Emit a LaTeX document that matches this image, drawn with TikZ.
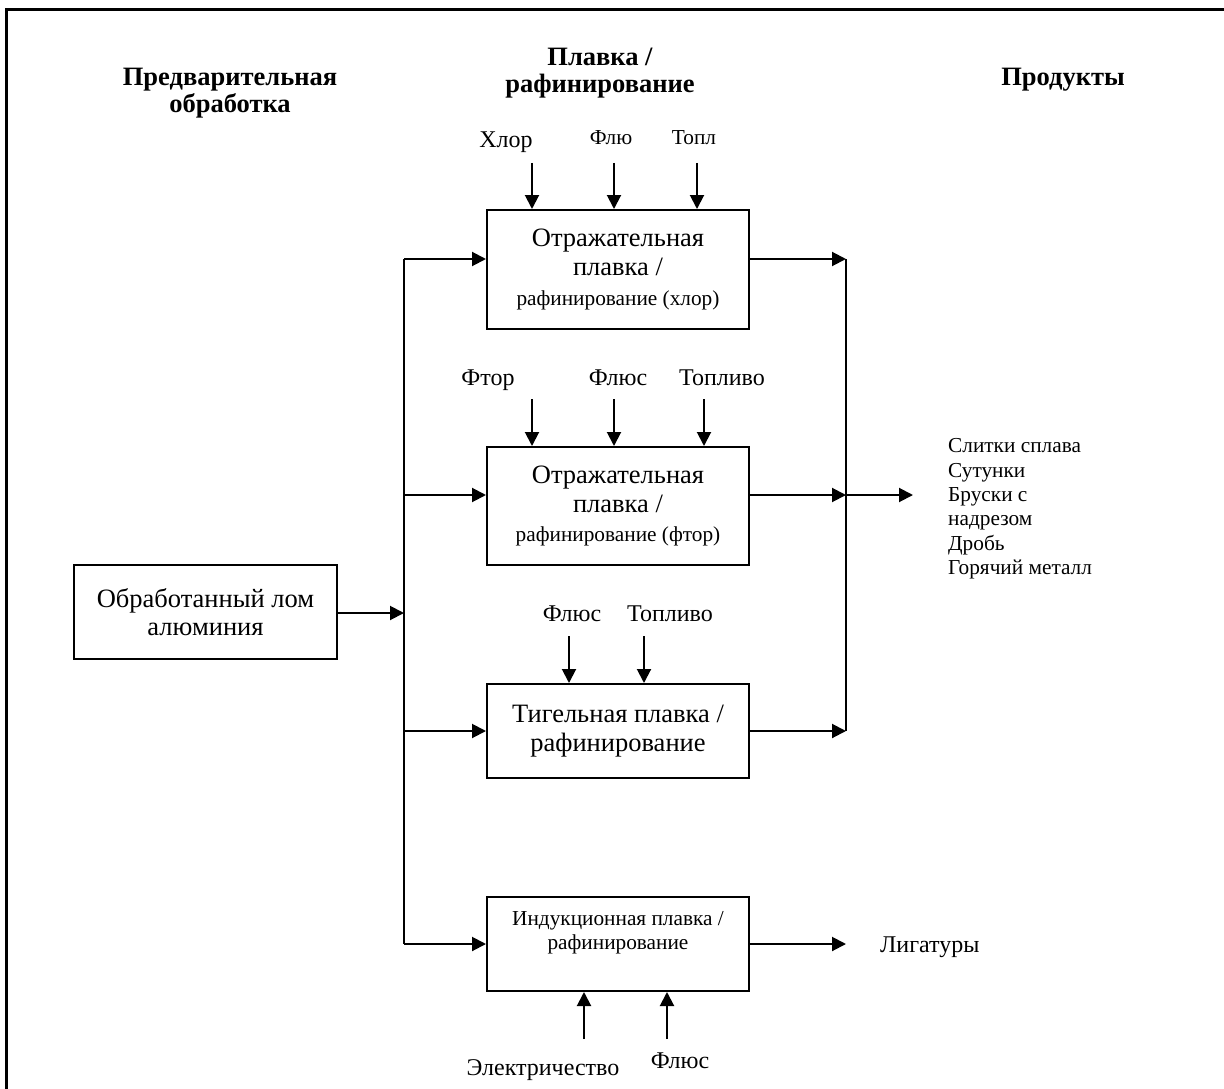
\documentclass[tikz,border=0pt]{standalone}
\usepackage{fontspec}
\setmainfont{Liberation Serif}
\usetikzlibrary{arrows.meta}
% font sizes used in the scheme
\newcommand\szHead{\fontsize{26.5}{27}\selectfont\bfseries}
\newcommand\szBig{\fontsize{26.5}{28.5}\selectfont}
\newcommand\szMid{\fontsize{24}{26}\selectfont}
\newcommand\szSmall{\fontsize{21.3}{24.4}\selectfont}
\begin{document}
\begin{tikzpicture}[x=1pt,y=-1pt,
  box/.style={draw, line width=2pt, minimum width=262pt, inner sep=0pt, align=center},
  flow/.style={line width=2pt, -{Triangle[length=14pt,width=14pt]}},
  wire/.style={line width=2pt},
  lbl/.style={inner sep=0pt, align=center},
  tag/.style={inner sep=0pt, anchor=base},
]
\useasboundingbox (0,0) rectangle (1224,1089);
% outer frame (only its top and left edges fall on the page)
\draw[line width=3pt] (6,1120) -- (6,10) -- (1260,10);

% column headings
\node[lbl, font=\szHead] (hPre) at (230,93) {Предварительная\\обработка};
\node[lbl, font=\szHead] (hMelt) at (600,73) {Плавка /\\рафинирование};
\node[lbl, font=\szHead] (hProd) at (1063,80) {Продукты};

% process boxes
\node[box, minimum width=263pt, minimum height=94pt, font=\szBig] (b0) at (205.5,612)
  {Обработанный лом\\алюминия};
\node[box, minimum height=119pt, font=\szBig] (b1) at (618,269.5)
  {Отражательная\\плавка /\\[2pt]{\szSmall рафинирование (хлор)}};
\node[box, minimum height=118pt, font=\szBig] (b2) at (618,506)
  {Отражательная\\плавка /\\[1pt]{\szSmall рафинирование (фтор)}};
\node[box, minimum height=94pt, font=\szBig] (b3) at (618,731)
  {Тигельная плавка /\\рафинирование};
\node[box, minimum height=94pt] (b4) at (618,944) {};
\node[lbl, font=\szSmall] (b4t) at (618,932.5)
  {Индукционная плавка /\\рафинирование};

% reagents above the boxes
\node[tag, font=\szMid] (in1a) at (506,148) {Хлор};
\node[tag, font=\szSmall] (in1b) at (611,145) {Флю};
\node[tag, font=\szSmall] (in1c) at (694,145) {Топл};
\coordinate (a1a) at (532,163);
\coordinate (a1b) at (614,163);
\coordinate (a1c) at (697,163);
\draw[flow] (a1a) -- (b1.north -| a1a);
\draw[flow] (a1b) -- (b1.north -| a1b);
\draw[flow] (a1c) -- (b1.north -| a1c);

\node[tag, font=\szMid] (in2a) at (488,385) {Фтор};
\node[tag, font=\szMid] (in2b) at (618,385) {Флюс};
\node[tag, font=\szMid] (in2c) at (722,385) {Топливо};
\coordinate (a2a) at (532,399);
\coordinate (a2b) at (614,399);
\coordinate (a2c) at (704,399);
\draw[flow] (a2a) -- (b2.north -| a2a);
\draw[flow] (a2b) -- (b2.north -| a2b);
\draw[flow] (a2c) -- (b2.north -| a2c);

\node[tag, font=\szMid] (in3a) at (572,621) {Флюс};
\node[tag, font=\szMid] (in3b) at (670,621) {Топливо};
\coordinate (a3a) at (569,636);
\coordinate (a3b) at (644,636);
\draw[flow] (a3a) -- (b3.north -| a3a);
\draw[flow] (a3b) -- (b3.north -| a3b);

% supplies below the induction furnace
\node[tag, font=\szMid] (in4a) at (543,1075) {Электричество};
\node[tag, font=\szMid] (in4b) at (680,1068) {Флюс};
\coordinate (a4a) at (584,1039);
\coordinate (a4b) at (667,1039);
\draw[flow] (a4a) -- (b4.south -| a4a);
\draw[flow] (a4b) -- (b4.south -| a4b);

% distribution trunk
\coordinate (t0) at (404,613);
\coordinate (t1) at (404,259);
\coordinate (t2) at (404,495);
\coordinate (t3) at (404,731);
\coordinate (t4) at (404,944);
\draw[flow] (b0.east |- t0) -- (t0);
\draw[wire] (t1) -- (t4);
\draw[flow] (t1) -- (b1.west |- t1);
\draw[flow] (t2) -- (b2.west |- t2);
\draw[flow] (t3) -- (b3.west |- t3);
\draw[flow] (t4) -- (b4.west |- t4);

% collector of the products
\coordinate (r1) at (846,259);
\coordinate (r2) at (846,495);
\coordinate (r3) at (846,731);
\coordinate (r4) at (846,944);
\coordinate (rOut) at (913,495);
\draw[flow] (b1.east |- r1) -- (r1);
\draw[flow] (b2.east |- r2) -- (r2);
\draw[flow] (b3.east |- r3) -- (r3);
\draw[wire] (r1) -- (r3);
\draw[flow] (r2) -- (rOut);
\draw[flow] (b4.east |- r4) -- (r4);

% products
\node[lbl, font=\szSmall, align=left, anchor=west] (prod) at (948,509)
  {Слитки сплава\\Сутунки\\Бруски с\\надрезом\\Дробь\\Горячий металл};
\node[tag, font=\szMid, anchor=base west] (lig) at (880,952) {Лигатуры};
\end{tikzpicture}
\end{document}
